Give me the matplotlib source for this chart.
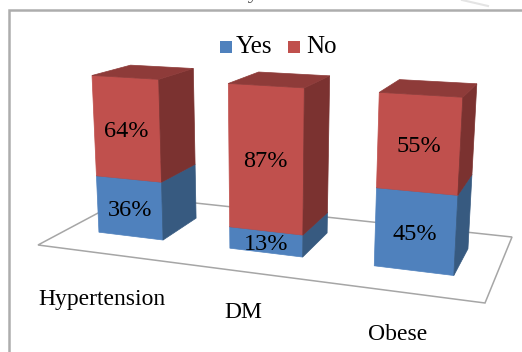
import numpy as np
import matplotlib
matplotlib.use("Agg")
import matplotlib.pyplot as plt
from matplotlib.patches import Polygon, Rectangle

categories = ["Hypertension", "DM", "Obese"]
yes_values = [36, 13, 45]
no_values = [64, 87, 55]
series_names = ["Yes", "No"]

# colours for front, top and side of each series
BLUE = ("#4f81bd", "#3f6797", "#375a80")
RED = ("#c0504d", "#8e3b39", "#7b3230")

# corners of the floor in figure pixels: front-left, front-right, back-right, back-left
FLOOR = [(38, 245), (485, 303), (512, 237), (130, 196)]
# point where the vertical edges of the chart meet
VANISH = np.array([266.0, 4008.0])
# bar footprint on the floor, in floor units
BAR_LEFT = [0.081, 0.414, 0.747]
BAR_RIGHT = [0.248, 0.586, 0.917]
DEPTH_FRONT = 0.30
DEPTH_BACK = 0.72


def floor_matrix(corners):
    # homography from the unit square to the floor corners
    unit = [(0, 0), (1, 0), (1, 1), (0, 1)]
    rows, rhs = [], []
    for (u, v), (x, y) in zip(unit, corners):
        rows.append([u, v, 1, 0, 0, 0, -u * x, -v * x])
        rows.append([0, 0, 0, u, v, 1, -u * y, -v * y])
        rhs += [x, y]
    h = np.linalg.solve(np.array(rows, float), np.array(rhs, float))
    return np.append(h, 1).reshape(3, 3)


H = floor_matrix(FLOOR)


def project(u, d, pct):
    # floor position plus height in percent gives a pixel position,
    # things nearer the viewer (lower on screen) rise a bit more
    p = H @ np.array([u, d, 1.0])
    base = p[:2] / p[2]
    rise = 0.0399 + 0.000144 * (base[1] - 221)
    return tuple(VANISH + (1 + rise * pct / 100) * (base - VANISH))


def draw_block(ax, left, right, low, high, colours, zorder):
    front, top, side = colours
    fl, fr = (left, DEPTH_FRONT), (right, DEPTH_FRONT)
    br, bl = (right, DEPTH_BACK), (left, DEPTH_BACK)
    ax.add_patch(Polygon([project(*fl, low), project(*fr, low), project(*fr, high), project(*fl, high)],
                         fc=front, ec=front, lw=0.5, zorder=zorder))
    ax.add_patch(Polygon([project(*fr, low), project(*br, low), project(*br, high), project(*fr, high)],
                         fc=side, ec=side, lw=0.5, zorder=zorder))
    ax.add_patch(Polygon([project(*fl, high), project(*fr, high), project(*br, high), project(*bl, high)],
                         fc=top, ec=top, lw=0.5, zorder=zorder))


plt.rcParams["font.family"] = ["Liberation Serif", "DejaVu Serif"]
fig = plt.figure(figsize=(5.22, 3.52), dpi=100)
ax = fig.add_axes([0, 0, 1, 1])
ax.set_xlim(0, 522)
ax.set_ylim(352, 0)
ax.axis("off")

# line of body text above the chart, mostly cut off by the top edge
ax.text(419, -2, "and obesity are shown below.", ha="right", va="baseline", fontsize=16, color="#555555")
ax.plot([462, 488], [0, 6], color="#e4e4e4", lw=1.5, zorder=0)

# outer frame, runs off the right and bottom edges
ax.add_patch(Rectangle((9, 10), 540, 370, fc="white", ec="#adadad", lw=1.8, zorder=0))

# floor of the chart
ax.add_patch(Polygon(FLOOR, closed=True, fc="white", ec="#a6a6a6", lw=1.1, zorder=1))

for i in range(len(categories)):
    left, right = BAR_LEFT[i], BAR_RIGHT[i]
    yes, no = yes_values[i], no_values[i]
    draw_block(ax, left, right, 0, yes, BLUE, 2)
    draw_block(ax, left, right, yes, yes + no, RED, 3)
    mid = (left + right) / 2
    x, y = project(mid, DEPTH_FRONT, yes / 2)
    ax.text(x, y + 3, f"{yes}%", ha="center", va="center", fontsize=17.5, zorder=5)
    x, y = project(mid, DEPTH_FRONT, yes + no / 2)
    ax.text(x, y + 3, f"{no}%", ha="center", va="center", fontsize=17.5, zorder=5)

# category labels below the floor
label_pos = [(102, 300), (243, 312), (398, 334)]
for name, (x, y) in zip(categories, label_pos):
    ax.text(x, y, name, ha="center", va="center", fontsize=17)

# legend
ax.add_patch(Rectangle((220, 41), 12, 12, fc=BLUE[0], ec="none"))
ax.text(236, 47, series_names[0], ha="left", va="center", fontsize=18)
ax.add_patch(Rectangle((288, 41), 12, 12, fc=RED[0], ec="none"))
ax.text(306, 47, series_names[1], ha="left", va="center", fontsize=18)

fig.savefig("out.png", dpi=100)
